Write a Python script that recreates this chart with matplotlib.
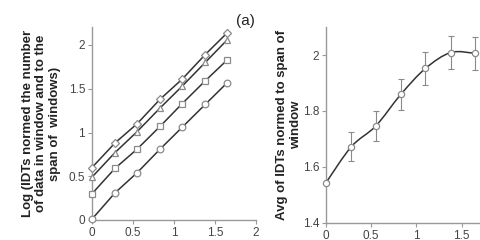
import matplotlib.pyplot as plt
import numpy as np
from matplotlib.path import Path
from matplotlib.patches import PathPatch

plt.rcParams['font.family'] = ['Liberation Sans', 'DejaVu Sans']

# datos
x = [0, 0.28, 0.55, 0.83, 1.1, 1.38, 1.65]
serie_rombo = [0.6, 0.88, 1.10, 1.38, 1.61, 1.89, 2.14]
serie_triang = [0.49, 0.77, 1.01, 1.28, 1.53, 1.80, 2.06]
serie_cuad = [0.30, 0.59, 0.81, 1.07, 1.33, 1.59, 1.83]
serie_circ = [0.01, 0.31, 0.54, 0.81, 1.06, 1.32, 1.57]

promedio = [1.543, 1.672, 1.746, 1.860, 1.952, 2.009, 2.006]
error = [0.005, 0.052, 0.053, 0.055, 0.058, 0.06, 0.06]

ticks_izq = [0, 0.5, 1, 1.5, 2]
ticks_der_x = [0, 0.5, 1, 1.5]
ticks_der_y = [1.4, 1.6, 1.8, 2]

gris_eje = '#999999'
gris_linea = '#333333'
gris_marca = '#8a8a8a'


def curva_suave(ax, xs, ys, **kw):
    # spline tipo Catmull-Rom con curvas de Bezier (como Excel)
    xs = np.asarray(xs, float)
    ys = np.asarray(ys, float)
    n = len(xs)
    verts = [(xs[0], ys[0])]
    codes = [Path.MOVETO]
    for i in range(n - 1):
        p0 = (xs[max(i - 1, 0)], ys[max(i - 1, 0)])
        p1 = (xs[i], ys[i])
        p2 = (xs[i + 1], ys[i + 1])
        p3 = (xs[min(i + 2, n - 1)], ys[min(i + 2, n - 1)])
        c1 = (p1[0] + (p2[0] - p0[0]) / 6, p1[1] + (p2[1] - p0[1]) / 6)
        c2 = (p2[0] - (p3[0] - p1[0]) / 6, p2[1] - (p3[1] - p1[1]) / 6)
        verts += [c1, c2, p2]
        codes += [Path.CURVE4] * 3
    ax.add_patch(PathPatch(Path(verts, codes), fill=False, **kw))


def estilo(ax):
    for s in ['top', 'right']:
        ax.spines[s].set_visible(False)
    for s in ['left', 'bottom']:
        ax.spines[s].set_color(gris_eje)
        ax.spines[s].set_linewidth(1.0)
    ax.tick_params(colors=gris_eje, labelcolor='#444444', labelsize=8.5,
                   length=3, width=0.8, pad=2)


fig = plt.figure(figsize=(4.81, 2.40), dpi=100)

# grafico izquierdo
ax1 = fig.add_axes([92 / 481, 20 / 240, 164 / 481, 192.5 / 240])
marcadores = ['D', '^', 's', 'o']
tam = [3.8, 4.8, 4.8, 4.8]
for serie, m, t in zip([serie_rombo, serie_triang, serie_cuad, serie_circ], marcadores, tam):
    ax1.plot(x, serie, color=gris_linea, lw=1.1, marker=m, ms=t,
             mfc='white', mec=gris_marca, mew=0.9, clip_on=False, zorder=3)
ax1.set_xlim(0, 2)
ax1.set_ylim(0, 2.2)
ax1.set_xticks(ticks_izq)
ax1.set_xticklabels(['0', '0.5', '1', '1.5', '2'])
ax1.set_yticks(ticks_izq)
ax1.set_yticklabels(['0', '0.5', '1', '1.5', '2'])
estilo(ax1)
ax1.set_ylabel('Log (IDTs normed the number\nof data in window and to the\nspan of  windows)',
               fontsize=9.5, fontweight='bold', color='#222222', linespacing=1.15)
ax1.yaxis.set_label_coords(-0.19, 0.5)

# grafico derecho
ax2 = fig.add_axes([326 / 481, 17.3 / 240, 180.8 / 481, 195.6 / 240])
curva_suave(ax2, x, promedio, color=gris_linea, lw=1.1, zorder=2)
ax2.errorbar(x, promedio, yerr=error, fmt='none', ecolor=gris_marca,
             elinewidth=0.8, capsize=2.5, capthick=0.8, zorder=2)
ax2.plot(x, promedio, ls='none', marker='o', ms=4.5, mfc='white',
         mec=gris_marca, mew=0.9, clip_on=False, zorder=3)
ax2.set_xlim(0, 2)
ax2.set_ylim(1.4, 2.1)
ax2.set_xticks(ticks_der_x)
ax2.set_xticklabels(['0', '0.5', '1', '1.5'])
ax2.set_yticks(ticks_der_y)
ax2.set_yticklabels(['1.4', '1.6', '1.8', '2'])
estilo(ax2)
ax2.set_ylabel('Avg of IDTs normed to span of\nwindow',
               fontsize=9.5, fontweight='bold', color='#222222', linespacing=1.15)
ax2.yaxis.set_label_coords(-0.135, 0.5)

fig.text(245 / 481, 1 - 21 / 240, '(a)', fontsize=11, color='#222222',
         ha='center', va='center')

fig.savefig('out.png', dpi=100)
